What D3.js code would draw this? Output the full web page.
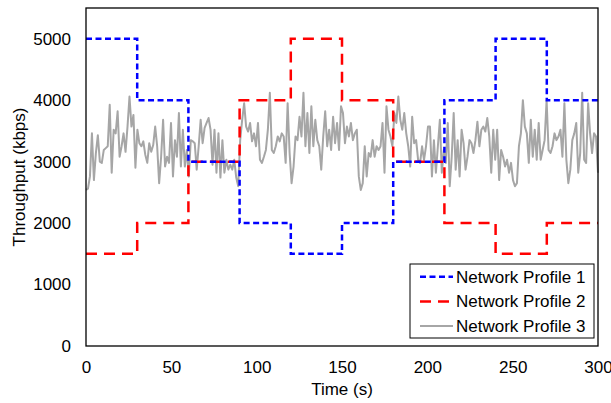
<!DOCTYPE html>
<html>
<meta charset="utf-8">
<script src="https://d3js.org/d3.v7.min.js"></script>
<style>
body { margin: 0; background: #fff; }
text { font-family: "Liberation Sans", Arial, sans-serif; }
</style>
<body>
<svg id="chart" width="611" height="403"></svg>
<script>
// step profiles: value holds from stepTimes[i] to the next step
var stepTimes = [0, 30, 60, 90, 120, 150, 180, 210, 240, 270, 300];
var profile1 = [5000, 4000, 3000, 2000, 1500, 2000, 3000, 4000, 5000, 4000, 4000];
var profile2 = [1500, 2000, 3000, 4000, 5000, 4000, 3000, 2000, 1500, 2000, 2000];

// noisy profile, spread evenly over 0-300 s
var profile3 = [
  2540,2560,2760,3460,2700,3140,3430,3000,2980,3190,3220,3250,3925,2820,3520,3460,3820,3080,3250,3460,3160,3570,4060,3570,3760,2900,3520,3300,3250,3330,3110,2980,3300,3160,3270,3570,3250,2650,3080,3680,2920,
  3080,2980,3630,2760,3350,3080,3790,2920,3520,2920,3190,2760,3350,3330,3300,2870,3250,3680,3300,3550,3630,3710,3520,2950,3520,2820,3460,2740,3350,2820,3030,2870,2950,2870,3030,2740,2600,3350,3680,3950,3570,3490,3630,3330,3460,
  3250,3630,3030,2980,3080,3190,3520,4120,3190,3140,3250,3410,3330,3460,3410,2980,3950,3140,2650,2920,3410,3350,3730,3410,4120,3250,3790,3140,3900,3250,3680,3350,3250,2870,3410,3820,3250,3520,3190,3730,3300,3630,3190,3900,
  3790,3300,3570,3410,3630,3350,3460,3520,2760,2540,2650,3250,2760,3140,3080,3350,3080,3250,3190,3250,3630,2820,3900,3520,3410,3250,3790,3630,4060,3680,3520,3790,3460,3250,2920,3730,3300,3350,3030,2980,3250,3030,3250,3570,
  3570,2760,3350,2820,3250,3680,2820,3190,2980,3630,2600,3080,3790,2870,3350,2760,3520,3300,2870,3080,3350,3300,3140,3350,3650,3250,3520,3570,3490,3710,3410,2820,3520,3030,3520,2700,3190,3080,2920,3030,2820,2980,2700,2600,
  2650,3250,3460,4000,3570,3460,2980,3680,3080,3520,3030,3630,3030,3190,3350,4000,3190,3140,3250,3460,3350,3410,3520,3080,3950,3030,2650,2870,3350,3460,3630,2820,3140,4120,3030,2980,3950,3460,3140,3460,3410,2820
];

var xTicks = [0, 50, 100, 150, 200, 250, 300];
var yTicks = [0, 1000, 2000, 3000, 4000, 5000];
var names = ["Network Profile 1", "Network Profile 2", "Network Profile 3"];

var margin = {top: 8, right: 13, bottom: 57, left: 86};
var width = 611 - margin.left - margin.right,
    height = 403 - margin.top - margin.bottom;

var svg = d3.select("#chart");
var g = svg.append("g").attr("transform", "translate(" + margin.left + "," + margin.top + ")");

var x = d3.scaleLinear().domain([0, 300]).range([0, width]);
var y = d3.scaleLinear().domain([0, 5500]).range([height, 0]);

// tick labels only, no tick marks
g.append("g")
  .attr("transform", "translate(0," + height + ")")
  .call(d3.axisBottom(x).tickValues(xTicks).tickSize(0).tickPadding(15).tickFormat(d3.format("d")))
  .call(function(a) { a.select(".domain").remove(); })
  .selectAll("text").attr("font-size", "17px").attr("fill", "#000")
  .style("font-family", "Liberation Sans, Arial, sans-serif");

g.append("g")
  .call(d3.axisLeft(y).tickValues(yTicks).tickSize(0).tickPadding(15).tickFormat(d3.format("d")))
  .call(function(a) { a.select(".domain").remove(); })
  .selectAll("text").attr("font-size", "17px").attr("fill", "#000")
  .style("font-family", "Liberation Sans, Arial, sans-serif");

var n = profile3.length;
var gray = d3.line()
  .x(function(d, i) { return x(i * 300 / (n - 1)); })
  .y(function(d) { return y(d); });

g.append("path").datum(profile3)
  .attr("d", gray)
  .attr("fill", "none")
  .attr("stroke", "#a6a6a6")
  .attr("stroke-width", 2)
  .attr("stroke-linejoin", "round");

var step = d3.line()
  .curve(d3.curveStepAfter)
  .x(function(d, i) { return x(stepTimes[i]); })
  .y(function(d) { return y(d); });

g.append("path").datum(profile2)
  .attr("d", step)
  .attr("fill", "none")
  .attr("stroke", "#ff0000")
  .attr("stroke-width", 2.5)
  .attr("stroke-dasharray", "11,7");

g.append("path").datum(profile1)
  .attr("d", step)
  .attr("fill", "none")
  .attr("stroke", "#0000ff")
  .attr("stroke-width", 2.5)
  .attr("stroke-dasharray", "6,3.5");

// frame
g.append("rect")
  .attr("width", width).attr("height", height)
  .attr("fill", "none").attr("stroke", "#000").attr("stroke-width", 1.3);

// axis titles
g.append("text")
  .attr("x", width / 2).attr("y", height + 48.5)
  .attr("text-anchor", "middle").attr("font-size", "17px")
  .text("Time (s)");

g.append("text")
  .attr("transform", "rotate(-90)")
  .attr("x", -height / 2).attr("y", -61.3)
  .attr("text-anchor", "middle").attr("font-size", "17px")
  .text("Throughput (kbps)");

// legend
var lg = svg.append("g").attr("transform", "translate(410,264)");
lg.append("rect").attr("width", 184).attr("height", 74)
  .attr("fill", "#fff").attr("stroke", "#000").attr("stroke-width", 1);

var styles = [
  {color: "#0000ff", dash: "6,3.5", w: 2.5},
  {color: "#ff0000", dash: "11,7", w: 2.5},
  {color: "#a6a6a6", dash: null, w: 2}
];
var item = lg.selectAll(".item").data(names).enter().append("g")
  .attr("transform", function(d, i) { return "translate(0," + (12.7 + i * 24.7) + ")"; });
item.append("line")
  .attr("x1", 10).attr("x2", 43).attr("y1", 0).attr("y2", 0)
  .attr("stroke", function(d, i) { return styles[i].color; })
  .attr("stroke-width", function(d, i) { return styles[i].w; })
  .attr("stroke-dasharray", function(d, i) { return styles[i].dash; });
item.append("text")
  .attr("x", 46).attr("y", 6)
  .attr("font-size", "17px")
  .text(function(d) { return d; });
</script>
</body>
</html>
